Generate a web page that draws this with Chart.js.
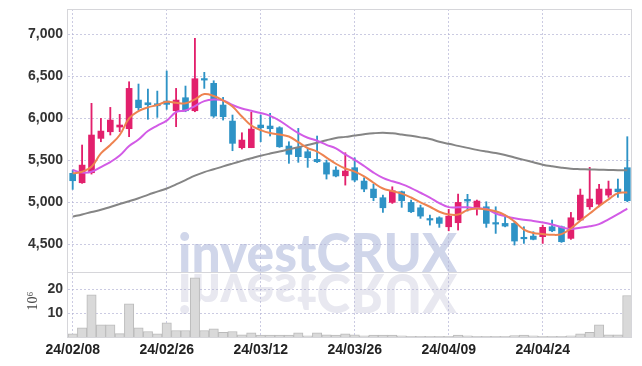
<!DOCTYPE html>
<html>
<head>
<meta charset="utf-8">
<script src="https://cdn.jsdelivr.net/npm/chart.js@4.4.1/dist/chart.umd.min.js"></script>
<style>
  html, body { margin: 0; padding: 0; background: #fff; }
  #wrap { width: 642px; height: 366px; }
</style>
</head>
<body>
<div id="wrap"><canvas id="chart" width="642" height="366"></canvas></div>
<script>
const dates = [
  '24/02/08','24/02/13','24/02/14','24/02/15','24/02/16','24/02/19','24/02/20','24/02/21','24/02/22','24/02/23',
  '24/02/26','24/02/27','24/02/28','24/02/29','24/03/04','24/03/05','24/03/06','24/03/07','24/03/08','24/03/11',
  '24/03/12','24/03/13','24/03/14','24/03/15','24/03/18','24/03/19','24/03/20','24/03/21','24/03/22','24/03/25',
  '24/03/26','24/03/27','24/03/28','24/03/29','24/04/01','24/04/02','24/04/03','24/04/04','24/04/05','24/04/08',
  '24/04/09','24/04/11','24/04/12','24/04/15','24/04/16','24/04/17','24/04/18','24/04/19','24/04/22','24/04/23',
  '24/04/24','24/04/25','24/04/26','24/04/29','24/04/30','24/05/02','24/05/03','24/05/07','24/05/08','24/05/09'
];
const tickDates = ['24/02/08','24/02/26','24/03/12','24/03/26','24/04/09','24/04/24'];
const priceTicks = [4500, 5000, 5500, 6000, 6500, 7000];
const volumeTicks = [10, 20];

const opens = [
  5342,5230,5349,5758,5837,5893,5873,6214,6182,6170,
  6202,6087,6242,6087,6468,6413,6155,5964,5647,5647,
  5917,5905,5885,5667,5651,5599,5508,5468,5381,5313,
  5409,5250,5155,5052,4996,5123,4996,4932,4802,4813,
  4706,4754,5032,4932,4944,4754,4746,4746,4580,4595,
  4588,4706,4706,4568,4786,4944,4976,5083,5155,5409
];
const highs = [
  5381,5679,6175,5996,6127,6044,6432,6405,6345,6321,
  6560,6353,6381,6949,6544,6444,6246,6036,5825,6068,
  6036,6056,5897,5718,5877,5639,5786,5500,5420,5587,
  5527,5289,5214,5083,5182,5131,5024,4964,4845,4825,
  4913,5095,5092,5024,5004,4944,4845,4766,4706,4647,
  4726,4786,4715,4877,5155,5413,5211,5250,5274,5778
];
const lows = [
  5151,5223,5333,5718,5798,5837,5778,6095,5985,6008,
  6104,5897,6075,6075,6353,6008,5976,5611,5631,5647,
  5718,5786,5651,5461,5473,5413,5470,5274,5300,5202,
  5242,5123,5016,4877,4984,4937,4875,4806,4726,4699,
  4658,4667,4893,4845,4699,4627,4705,4488,4508,4550,
  4508,4647,4520,4556,4780,4913,4944,5056,5056,5004
];
const closes = [
  5254,5440,5798,5845,5976,5917,6353,6123,6158,6146,
  6163,6214,6087,6468,6452,6024,6016,5699,5738,5869,
  5885,5873,5658,5568,5540,5528,5480,5333,5310,5369,
  5262,5155,5052,4932,5135,5016,4885,4833,4786,4746,
  4833,4996,5012,5012,4746,4738,4714,4536,4563,4556,
  4699,4658,4528,4813,5083,5036,5155,5155,5123,5016
];
// millions of shares
const volumes = [
  1.3,3.8,17.6,5.1,5.1,1.4,13.8,3.8,2.3,1.3,
  5.9,2.7,2.7,24.7,2.7,3.4,1.9,2.3,0.9,1.7,
  0.8,0.8,0.8,0.8,1.7,0.5,1.7,0.9,0.8,1.3,
  0.9,0.5,0.8,0.8,0.8,0.5,0.3,0.3,0.3,0.3,
  0.3,0.8,0.5,0.3,0.3,0.3,0.3,0.6,0.8,0.5,
  0.3,0.3,0.3,0.5,1.3,1.9,5.1,0.9,0.9,17.3
];
const ma5 = [
  5342,5361,5420,5580,5679,5798,5996,6083,6127,6155,
  6194,6182,6175,6222,6286,6262,6208,6137,6018,5911,
  5857,5821,5804,5780,5714,5643,5601,5530,5456,5399,
  5363,5306,5230,5161,5131,5101,5054,4996,4944,4885,
  4853,4851,4905,4922,4911,4890,4845,4767,4673,4631,
  4619,4610,4619,4685,4778,4863,4952,5032,5106,5113
];
const ma10 = [
  5381,5351,5360,5417,5476,5554,5667,5744,5845,5911,
  5970,6071,6089,6143,6202,6220,6210,6155,6113,6086,
  6060,6026,5970,5893,5821,5766,5730,5681,5639,5567,
  5502,5429,5351,5288,5247,5214,5167,5111,5054,4988,
  4940,4937,4937,4925,4917,4864,4833,4807,4789,4776,
  4758,4734,4700,4679,4695,4711,4738,4794,4856,4923
];
const ma60 = [
  4827,4853,4881,4908,4942,4976,5010,5046,5086,5124,
  5162,5211,5261,5314,5357,5390,5425,5458,5490,5521,
  5551,5577,5601,5627,5653,5679,5706,5736,5762,5776,
  5792,5807,5819,5825,5818,5804,5788,5770,5750,5719,
  5693,5669,5645,5621,5601,5583,5560,5531,5502,5474,
  5445,5425,5409,5397,5392,5388,5385,5382,5380,5378
];

const upColor = '#e2206c';
const downColor = '#2e93c6';
const candleColors = closes.map((c, i) => c >= opens[i] ? upColor : downColor);
const gridColor = 'rgba(175,175,210,0.65)';
const tickFont = { family: "'Liberation Sans', Arial, sans-serif", size: 14, weight: 'bold' };

const backdrop = {
  id: 'backdrop',
  beforeDraw(chart) {
    const ctx = chart.ctx;
    const base = chart.scales.y.bottom;
    ctx.save();
    ctx.font = "900 54px Lato, Roboto, 'Liberation Sans', sans-serif";
    const w = ctx.measureText('investCRUX').width;
    ctx.translate(178, base);
    ctx.scale(279 / w, 1);
    ctx.fillStyle = '#d0d6ea';
    ctx.fillText('investCRUX', 0, 0);
    ctx.scale(1, -1);
    ctx.fillStyle = '#e8e8f0';
    ctx.fillText('investCRUX', 0, -2);
    ctx.restore();
  },
  afterDraw(chart) {
    const ctx = chart.ctx;
    const a = chart.chartArea;
    ctx.save();
    ctx.strokeStyle = '#d6d6da';
    ctx.lineWidth = 1;
    ctx.strokeRect(Math.round(a.left) - 0.5, Math.round(a.top) + 0.5, Math.round(a.right - a.left), Math.round(a.bottom - a.top));
    const yb = Math.round(chart.scales.y.bottom) + 0.5;
    ctx.beginPath();
    ctx.moveTo(a.left, yb);
    ctx.lineTo(a.right, yb);
    ctx.stroke();
    ctx.translate(33, 301);
    ctx.rotate(-Math.PI / 2);
    ctx.fillStyle = '#444';
    ctx.font = "14px 'Liberation Serif', 'DejaVu Serif', serif";
    ctx.textAlign = 'center';
    ctx.textBaseline = 'middle';
    ctx.fillText('10\u2076', 0, 0);
    ctx.restore();
  }
};

function noPad(s) {
  s.paddingTop = 0;
  s.paddingBottom = 0;
  s.paddingLeft = 0;
  s.paddingRight = 0;
}

new Chart(document.getElementById('chart'), {
  type: 'bar',
  data: {
    labels: dates,
    datasets: [
      { type: 'line', data: ma5, yAxisID: 'y', borderColor: '#ee8350', borderWidth: 2, pointRadius: 0, tension: 0.4, order: 0 },
      { type: 'line', data: ma10, yAxisID: 'y', borderColor: '#d25be6', borderWidth: 2, pointRadius: 0, tension: 0.4, order: 1 },
      { type: 'line', data: ma60, yAxisID: 'y', borderColor: '#858585', borderWidth: 2, pointRadius: 0, tension: 0.4, order: 2 },
      { data: opens.map((o, i) => [o, closes[i]]), yAxisID: 'y', backgroundColor: candleColors, barThickness: 6, minBarLength: 1.5, grouped: false, order: 3 },
      { data: lows.map((l, i) => [l, highs[i]]), yAxisID: 'y', backgroundColor: candleColors, barThickness: 1.2, grouped: false, order: 4 },
      { data: volumes, yAxisID: 'yVol', backgroundColor: '#d9d9d9', borderColor: '#bababa', borderWidth: 1,
        categoryPercentage: 1, barPercentage: 1, grouped: false, order: 5 }
    ]
  },
  options: {
    responsive: false,
    animation: false,
    layout: { padding: { top: 9, right: 10, left: 0, bottom: 0 } },
    plugins: { legend: { display: false }, tooltip: { enabled: false } },
    scales: {
      x: {
        offset: true,
        grid: { offset: false, color: gridColor, drawTicks: false },
        border: { display: false, dash: [2, 2] },
        ticks: { autoSkip: false, maxRotation: 0, padding: 5, color: '#222', font: tickFont },
        afterBuildTicks(s) { s.ticks = s.ticks.filter(t => tickDates.includes(dates[t.value])); },
        afterFit(s) { s.height = 29; noPad(s); }
      },
      yVol: {
        position: 'left', stack: 'panes', stackWeight: 1,
        min: 0, max: 27.1,
        grid: { color: gridColor, drawTicks: false },
        border: { display: false, dash: [2, 2] },
        ticks: { padding: 5, color: '#333', font: tickFont },
        afterBuildTicks(s) { s.ticks = volumeTicks.map(v => ({ value: v })); },
        afterFit(s) { s.width = 68; noPad(s); }
      },
      y: {
        position: 'left', stack: 'panes', stackWeight: 4.05,
        min: 4167, max: 7298,
        grid: { color: gridColor, drawTicks: false },
        border: { display: false, dash: [2, 2] },
        ticks: { padding: 5, color: '#333', font: tickFont, callback: v => v.toLocaleString('en-US') },
        afterBuildTicks(s) { s.ticks = priceTicks.map(v => ({ value: v })); },
        afterFit(s) { s.width = 68; noPad(s); }
      }
    }
  },
  plugins: [backdrop]
});
</script>
</body>
</html>
